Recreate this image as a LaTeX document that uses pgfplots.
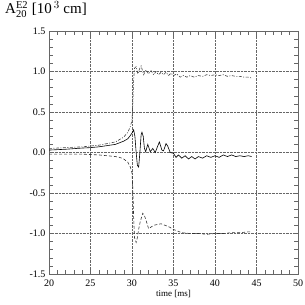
\documentclass[border=0pt]{standalone}
\usepackage{fontspec}
\setmainfont{Liberation Serif}
\usepackage{pgfplots}
\pgfplotsset{compat=1.18}
\begin{document}
\begin{tikzpicture}[x=1pt,y=1pt]
\path[use as bounding box] (0,0) rectangle (305,305);
\node[anchor=base west,font=\fontsize{15}{18}\selectfont,inner sep=0pt] at (5,291) {A$_{\mathrm{20}}^{\mathrm{E2}}$ [10$^{\,3}$ cm]};
\begin{axis}[
  at={(49pt,31pt)}, anchor=south west,
  scale only axis, width=249pt, height=243pt,
  xmin=20, xmax=50, ymin=-1.5, ymax=1.5,
  xtick={20,25,...,50}, ytick={-1.5,-1,...,1.5},
  minor x tick num=4, minor y tick num=4,
  yticklabel style={/pgf/number format/.cd,fixed,fixed zerofill,precision=1},
  /pgf/number format/assume math mode=true,
  ticklabel style={font=\fontsize{10}{12}\selectfont},
  xticklabel style={anchor=base, yshift=-13pt},
  tick align=inside, tick pos=both,
  major tick length=5pt, minor tick length=4pt,
  axis line style={black!60}, every tick/.style={black!60},
  grid=major, major grid style={densely dotted, black!60},
  xlabel={time [ms]}, xlabel style={font=\fontsize{9}{11}\selectfont, at={(axis description cs:0.5,0)}, anchor=base, yshift=-23pt},
]
\addplot[black!75, dash pattern=on 3pt off 1.5pt on 1pt off 1.5pt, line width=0.6pt] coordinates {
(20,0.05)(22,0.06)(24,0.07)(25,0.08)(26,0.09)(27,0.11)(28,0.13)(28.5,0.16)(29,0.19)(29.5,0.25)(29.8,0.32)(30.0,0.40)(30.1,0.6)(30.2,0.9)(30.3,1.04)(30.5,1.06)(30.7,0.97)(30.9,1.03)(31.1,1.07)(31.4,0.96)(31.7,1.02)(32.0,0.97)(32.3,1.01)(32.6,0.96)(32.9,1.0)(33.2,0.96)(33.5,0.99)(33.8,0.96)(34.1,0.99)(34.4,0.95)(34.7,0.98)(35.0,0.95)(35.4,0.97)(35.8,0.93)(36.2,0.95)(36.6,0.93)(37.0,0.95)(37.5,0.93)(38.0,0.95)(38.5,0.94)(39.0,0.96)(39.5,0.95)(40.0,0.96)(40.5,0.95)(41.0,0.96)(41.5,0.94)(42.0,0.95)(42.5,0.94)(43.0,0.94)(43.5,0.93)(44.0,0.93)(44.4,0.92)};
\addplot[black, line width=0.6pt] coordinates {
(20,0.03)(22,0.04)(24,0.055)(25,0.06)(26,0.07)(27,0.085)(28,0.10)(28.5,0.12)(29,0.14)(29.5,0.17)(29.8,0.21)(30.0,0.24)(30.2,0.28)(30.35,0.20)(30.5,0.0)(30.65,-0.16)(30.8,-0.18)(30.95,0.0)(31.1,0.22)(31.2,0.25)(31.35,0.2)(31.5,0.05)(31.65,0.01)(31.9,0.1)(32.2,0.01)(32.5,0.05)(32.8,0.0)(33.1,0.08)(33.3,0.13)(33.6,0.03)(33.8,0.02)(34.1,0.11)(34.3,0.08)(34.6,0.0)(35.0,-0.01)(35.3,-0.06)(35.6,-0.03)(36.0,-0.07)(36.4,-0.04)(36.8,-0.08)(37.2,-0.05)(37.6,-0.08)(38.0,-0.05)(38.5,-0.07)(39.0,-0.04)(39.5,-0.06)(40.0,-0.04)(40.5,-0.06)(41.0,-0.03)(41.5,-0.05)(42.0,-0.03)(42.5,-0.05)(43.0,-0.04)(43.5,-0.05)(44.0,-0.04)(44.4,-0.05)};
\addplot[black!80, dash pattern=on 3pt off 2pt, line width=0.6pt] coordinates {
(20,-0.02)(22,-0.02)(24,-0.02)(25,-0.025)(26,-0.03)(27,-0.04)(28,-0.05)(28.5,-0.06)(29,-0.08)(29.5,-0.12)(29.8,-0.18)(30.0,-0.25)(30.1,-0.45)(30.2,-0.8)(30.3,-1.05)(30.5,-1.11)(30.65,-1.05)(30.8,-0.95)(31.0,-0.85)(31.3,-0.75)(31.5,-0.78)(31.7,-0.84)(32.0,-0.94)(32.3,-0.92)(32.6,-0.90)(33.0,-0.89)(33.5,-0.88)(34.0,-0.90)(34.5,-0.92)(35.0,-0.95)(35.5,-0.97)(36.0,-0.99)(37.0,-1.0)(38.0,-1.0)(39.0,-1.01)(40.0,-1.0)(41.0,-1.0)(42.0,-0.99)(43.0,-0.99)(44.0,-0.98)(44.4,-0.98)};
\end{axis}
\end{tikzpicture}
\end{document}
